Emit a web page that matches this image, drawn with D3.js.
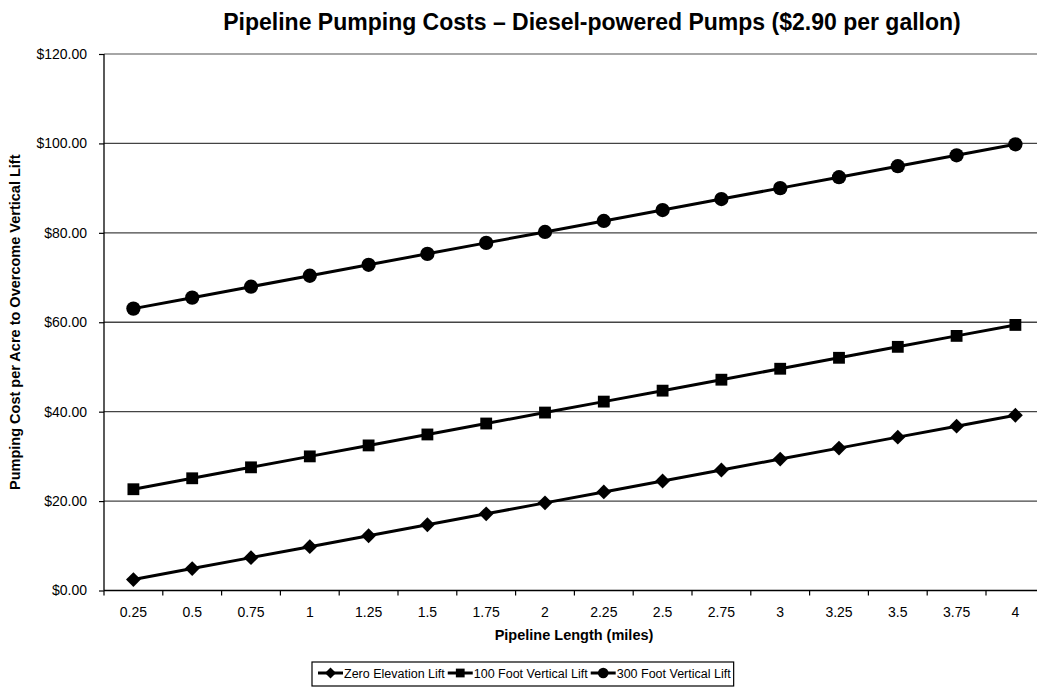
<!DOCTYPE html>
<html><head><meta charset="utf-8">
<script src="https://cdn.jsdelivr.net/npm/d3@7"></script>
<style>body{margin:0;background:#fff}svg{display:block}text{font-family:"Liberation Sans",Arial,sans-serif}</style>
</head><body>
<svg id="c" width="1037" height="687"></svg>
<script>
const categories = ["0.25","0.5","0.75","1","1.25","1.5","1.75","2","2.25","2.5","2.75","3","3.25","3.5","3.75","4"];
const zeroLift = [2.45,4.90,7.35,9.80,12.25,14.70,17.15,19.60,22.05,24.50,26.95,29.40,31.85,34.30,36.75,39.20];
const lift100 = [22.65,25.10,27.55,30.00,32.45,34.90,37.35,39.80,42.25,44.70,47.15,49.60,52.05,54.50,56.95,59.40];
const lift300 = [63.05,65.50,67.95,70.40,72.85,75.30,77.75,80.20,82.65,85.10,87.55,90.00,92.45,94.90,97.35,99.80];
const seriesNames = ["Zero Elevation Lift","100 Foot Vertical Lift","300 Foot Vertical Lift"];
const yTicks = [0,20,40,60,80,100,120];
const title = "Pipeline Pumping Costs \u2013 Diesel-powered Pumps ($2.90 per gallon)";
const xTitle = "Pipeline Length (miles)";
const yTitle = "Pumping Cost per Acre to Overcome Vertical Lift";

const svg = d3.select("#c");
const L = 104, T = 54, B = 590.5, step = 58.8;
const R = L + step * categories.length;
const x = d3.scaleBand().domain(categories).range([L, R]);
const y = d3.scaleLinear().domain([0,120]).range([B, T]);

// gridlines
svg.append("g").selectAll("line").data(yTicks.filter(d=>d>0)).join("line")
  .attr("x1", L).attr("x2", R).attr("y1", d=>y(d)).attr("y2", d=>y(d))
  .attr("stroke", d=> d===120 ? "#888" : "#444").attr("stroke-width", 1.3);

// y axis
const ya = svg.append("g").attr("transform",`translate(${L},0)`)
  .call(d3.axisLeft(y).tickValues(yTicks).tickSize(5).tickPadding(12).tickFormat(d=>"$"+d3.format(".2f")(d)));
ya.attr("font-size",14).attr("font-family",null);
ya.select(".domain").attr("stroke","#000").attr("stroke-width",1.3).attr("d",`M0,${B}V${T}`);
ya.selectAll(".tick line").attr("stroke","#000").attr("stroke-width",1.2);
ya.selectAll("text").attr("fill","#000");

// x axis
const xa = svg.append("g").attr("transform",`translate(0,${B})`)
  .call(d3.axisBottom(x).tickSize(0).tickPadding(17));
xa.attr("font-size",14).attr("font-family",null);
xa.select(".domain").attr("stroke","#000").attr("stroke-width",1.3).attr("d",`M${L},0H${R}`);
xa.selectAll("text").attr("fill","#000");
svg.append("g").selectAll("line").data(d3.range(categories.length+1)).join("line")
  .attr("x1", i=>L+i*x.step()).attr("x2", i=>L+i*x.step()).attr("y1",B).attr("y2",B+5)
  .attr("stroke","#000").attr("stroke-width",1.2);

// series
const data = [zeroLift, lift100, lift300];
const shapes = [d3.symbolSquare, d3.symbolSquare, d3.symbolCircle];
const rots = [45, 0, 0];
const sizes = [110, 140, 160];
const line = d3.line().x((d,i)=>x(categories[i])+x.bandwidth()/2).y(d=>y(d));
data.forEach((s,k)=>{
  svg.append("path").attr("d", line(s)).attr("fill","none").attr("stroke","#000").attr("stroke-width",3);
  svg.append("g").selectAll("path").data(s).join("path")
    .attr("transform",(d,i)=>`translate(${x(categories[i])+x.bandwidth()/2},${y(d)}) rotate(${rots[k]})`)
    .attr("d", d3.symbol().type(shapes[k]).size(sizes[k])).attr("fill","#000");
});

// titles
svg.append("text").attr("x",592).attr("y",30).attr("text-anchor","middle")
  .attr("font-size",23).attr("font-weight","bold").text(title);
svg.append("text").attr("x",574).attr("y",640).attr("text-anchor","middle")
  .attr("font-size",14.5).attr("font-weight","bold").text(xTitle);
svg.append("text").attr("transform",`translate(20,${(T+B)/2}) rotate(-90)`).attr("text-anchor","middle")
  .attr("font-size",14.5).attr("font-weight","bold").text(yTitle);

// legend
const lg = svg.append("g");
const ly = 673;
const lx0 = 312;
let cx = lx0 + 6;
seriesNames.forEach((n,k)=>{
  lg.append("line").attr("x1",cx).attr("x2",cx+25).attr("y1",ly).attr("y2",ly).attr("stroke","#000").attr("stroke-width",3);
  lg.append("path").attr("transform",`translate(${cx+12.5},${ly}) rotate(${rots[k]})`).attr("d",d3.symbol().type(shapes[k]).size(sizes[k]*0.55)).attr("fill","#000");
  const t = lg.append("text").attr("x",cx+26).attr("y",ly+4.5).attr("font-size",12.5).text(n);
  cx += 26 + t.node().getComputedTextLength() + 3;
});
lg.insert("rect",":first-child").attr("x",lx0).attr("y",662).attr("width",cx-lx0).attr("height",24)
  .attr("fill","#fff").attr("stroke","#000").attr("stroke-width",1.2);
</script>
</body></html>
